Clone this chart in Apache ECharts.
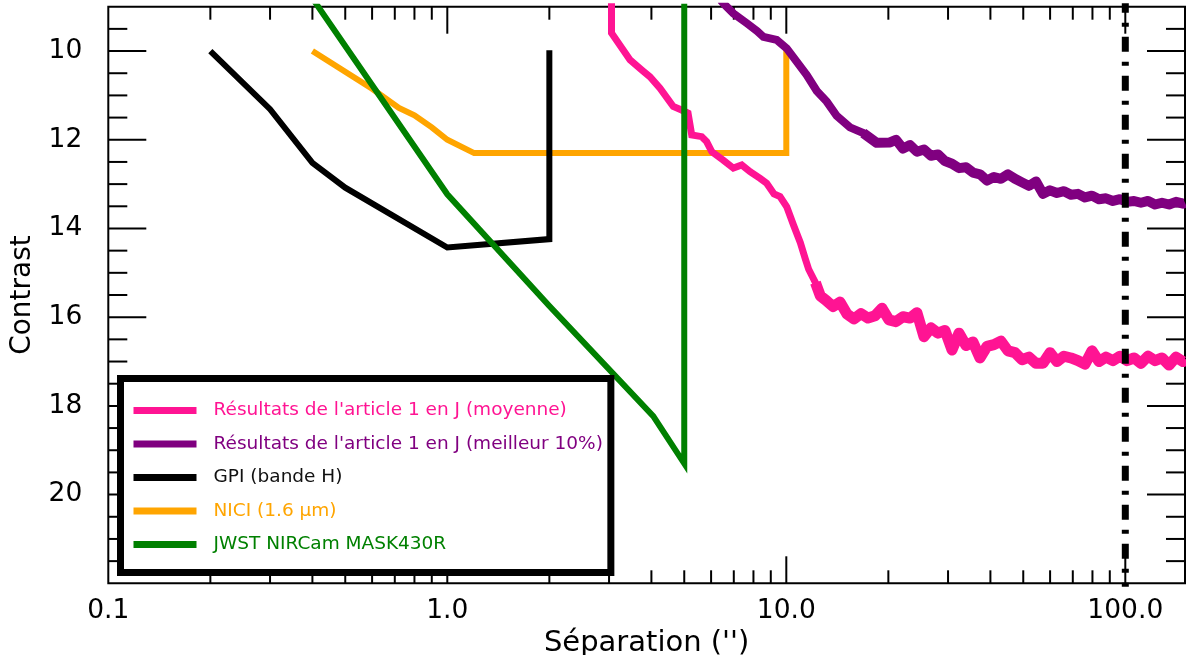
<!DOCTYPE html>
<html><head><meta charset="utf-8">
<script src="https://cdn.jsdelivr.net/npm/echarts@6/dist/echarts.min.js"></script>
<style>html,body{margin:0;padding:0;background:#fff}#c{width:1186px;height:655px}</style>
</head><body><div id="c"></div>
<script>
// ---- data ----
const namePink = "Résultats de l'article 1 en J (moyenne)";
const namePurple = "Résultats de l'article 1 en J (meilleur 10%)";
const nameGPI = "GPI (bande H)";
const nameNICI = "NICI (1.6 μm)";
const nameJWST = "JWST NIRCam MASK430R";

const gpi = [[0.2,10.0],[0.3,11.31],[0.4,12.52],[0.5,13.08],[1.0,14.43],[2.0,14.24],[2.0,9.98]];
const nici = [[0.4,10.0],[0.6,10.85],[0.72,11.28],[0.8,11.45],[0.9,11.72],[1.0,12.0],[1.2,12.3],[10.0,12.3],[10.0,9.98]];
const jwst = [[0.4,8.81],[1.0,13.23],[2.0,15.75],[4.05,18.23],[5.0,19.3],[5.0,8.8]];
// pink curve: steep part, then the noisy plateau
const pinkSteep = [
[3.05,8.8],[3.05,9.59],[3.46,10.2],[3.75,10.43],[3.96,10.58],[4.24,10.84],[4.64,11.25],[4.91,11.33],[5.13,11.40],[5.26,11.89],
[5.63,11.93],[5.82,12.04],[6.03,12.27],[6.52,12.46],[6.98,12.64],[7.39,12.57],[7.82,12.72],[8.37,12.87],[8.75,12.98],[9.2,13.22],
[9.58,13.28],[10.03,13.51],[10.52,13.94],[11.0,14.32],[11.38,14.69],[11.64,14.92],[12.19,15.22],[12.6,15.52],[13.10,15.62]
];
const pinkNoisy = [
[12.19,15.22],[12.6,15.52],[13.10,15.62],[13.73,15.76],[14.40,15.66],[15.10,15.93],[15.84,16.04],[16.61,15.92],[17.42,16.02],[18.27,15.97],
[19.16,15.80],[20.09,16.06],[21.07,16.10],[22.09,15.99],[23.17,16.02],[24.29,15.90],[25.48,16.44],[26.72,16.24],[28.02,16.36],[29.38,16.30],
[30.82,16.74],[32.32,16.36],[33.89,16.64],[35.53,16.56],[37.27,16.92],[39.08,16.66],[40.98,16.62],[42.97,16.54],[45.08,16.76],[47.27,16.80],
[49.57,16.96],[51.98,16.90],[54.52,17.04],[57.17,17.04],[59.96,16.80],[62.87,17.0],[65.93,16.88],[69.13,16.92],[72.5,16.98],[76.03,17.06],
[79.74,16.76],[83.62,17.0],[87.69,16.90],[91.96,16.98],[96.45,16.88],[101.15,16.98],[106.1,16.92],[111.2,17.04],[116.7,16.88],[122.4,16.98],
[128.3,16.92],[134.6,17.08],[141.1,16.90],[148.0,17.0],[150,16.94]
];
// purple curve: steep part, then the noisy tail
const purpleSteep = [
[6.4,8.85],[6.59,8.96],[6.98,9.15],[7.64,9.37],[8.2,9.55],[8.56,9.68],[9.37,9.75],[10.03,9.94],[10.73,10.24],[11.49,10.54],
[12.30,10.9],[13.16,11.14],[14.08,11.46],[15.41,11.72],[16.87,11.85],[18.48,12.07]
];
const purpleNoisy = [
[16.87,11.85],[18.48,12.07],[20.23,12.06],[21.07,12.0],[22.09,12.2],[23.17,12.12],[24.29,12.27],[25.48,12.22],[26.72,12.36],[28.02,12.33],
[29.38,12.48],[30.82,12.54],[32.32,12.64],[33.89,12.62],[35.53,12.74],[37.27,12.78],[39.08,12.92],[40.98,12.84],[42.97,12.88],[45.08,12.78],
[47.27,12.88],[49.57,12.96],[51.98,13.04],[54.52,12.94],[57.17,13.22],[59.96,13.14],[62.87,13.2],[65.93,13.16],[69.13,13.24],[72.5,13.22],
[76.03,13.3],[79.74,13.26],[83.62,13.34],[87.69,13.32],[91.96,13.38],[96.45,13.34],[101.15,13.4],[106.1,13.38],[111.2,13.42],[116.7,13.38],
[122.4,13.46],[128.3,13.42],[134.6,13.46],[141.1,13.4],[148.0,13.44],[150,13.42]
];
const limitLine = [[100,8.8],[100,22.2]];

const xMajorTicks = [1, 10, 100];
const xMinorTicks = [0.2,0.3,0.4,0.5,0.6,0.7,0.8,0.9,2,3,4,5,6,7,8,9,20,30,40,50,60,70,80,90];
const yMajorTicks = [10,12,14,16,18,20];
const yMinorTicks = [9.5,10.5,11,11.5,12.5,13,13.5,14.5,15,15.5,16.5,17,17.5,18.5,19,19.5,20.5,21,21.5];
const yLabelValues = [10,12,14,16,18,20];

const colPink = '#ff1493', colPurple = '#800080', colBlack = '#000000', colOrange = '#ffa500', colGreen = '#008000';

// ---- chart ----
const FONT = 'DejaVu Sans';
const tickData = [];
xMajorTicks.forEach(v => tickData.push([v, 10, 0, 1]));
xMinorTicks.forEach(v => tickData.push([v, 10, 0, 0]));
yMajorTicks.forEach(v => tickData.push([1, v, 1, 1]));
yMinorTicks.forEach(v => tickData.push([1, v, 1, 0]));

function lineSeries(name, data, color, width, join) {
  return {
    name: name, type: 'line', data: data, showSymbol: false, symbol: 'none',
    color: color, itemStyle: {color: color},
    lineStyle: {color: color, width: width, join: join || 'miter', cap: 'butt'},
    clip: true, silent: true, z: 2, animation: false
  };
}

const chart = echarts.init(document.getElementById('c'), null, {renderer: 'canvas'});
chart.setOption({
  animation: false,
  backgroundColor: '#ffffff',
  grid: {left: 108.3, top: 6.7, right: 1, bottom: 71.7, show: true, borderColor: '#000', borderWidth: 2,
         backgroundColor: 'transparent', containLabel: false, outerBoundsMode: 'none'},
  xAxis: {
    type: 'log', logBase: 10, min: 0.1, max: 150,
    name: "Séparation ('')", nameLocation: 'middle', nameGap: 36,
    nameTextStyle: {fontFamily: FONT, fontSize: 29, color: '#000'},
    axisLine: {show: false}, axisTick: {show: false}, splitLine: {show: false}, minorTick: {show: false},
    axisLabel: {
      fontFamily: FONT, fontSize: 26.5, color: '#000', margin: 14, showMaxLabel: false,
      formatter: function (v) {
        const l = Math.log10(v);
        return Math.abs(l - Math.round(l)) < 1e-6 ? v.toFixed(1) : '';
      }
    }
  },
  yAxis: {
    type: 'value', inverse: true, min: 9, max: 22, interval: 1,
    name: 'Contrast', nameLocation: 'middle', nameGap: 72,
    nameTextStyle: {fontFamily: FONT, fontSize: 28, color: '#000'},
    axisLine: {show: false}, axisTick: {show: false}, splitLine: {show: false},
    axisLabel: {
      fontFamily: FONT, fontSize: 26.5, color: '#000', margin: 26,
      formatter: function (v) { return yLabelValues.indexOf(v) >= 0 ? String(v) : ''; }
    }
  },
  legend: {
    orient: 'vertical', left: 120.5, top: 378.5,
    padding: [21, 8, 17, 13],
    backgroundColor: '#fff', borderColor: '#000', borderWidth: 7,
    itemWidth: 63, itemHeight: 7, itemGap: 11.5,
    selectedMode: false,
    textStyle: {fontFamily: FONT, fontSize: 18.5, lineHeight: 22, padding: [0, 0, 0, 12]},
    data: [
      {name: namePink, icon: 'rect', textStyle: {color: colPink}},
      {name: namePurple, icon: 'rect', textStyle: {color: colPurple}},
      {name: nameGPI, icon: 'rect', textStyle: {color: '#111'}},
      {name: nameNICI, icon: 'rect', textStyle: {color: colOrange}},
      {name: nameJWST, icon: 'rect', textStyle: {color: colGreen}}
    ]
  },
  series: [
    {
      type: 'custom', name: 'ticks', silent: true, z: 1,
      dimensions: ['x', 'y', 'kind', 'major'], encode: {x: 0, y: 1},
      data: tickData,
      renderItem: function (params, api) {
        const cs = params.coordSys;
        const kind = api.value(2), major = api.value(3);
        const st = {stroke: '#000', lineWidth: 2};
        if (kind === 0) {
          const px = api.coord([api.value(0), 10])[0];
          const L = major ? 27 : 13;
          return {type: 'group', children: [
            {type: 'line', shape: {x1: px, y1: cs.y, x2: px, y2: cs.y + L}, style: st},
            {type: 'line', shape: {x1: px, y1: cs.y + cs.height, x2: px, y2: cs.y + cs.height - L}, style: st}
          ]};
        }
        const py = api.coord([1, api.value(1)])[1];
        const L = major ? 38 : 19;
        return {type: 'group', children: [
          {type: 'line', shape: {x1: cs.x, y1: py, x2: cs.x + L, y2: py}, style: st},
          {type: 'line', shape: {x1: cs.x + cs.width, y1: py, x2: cs.x + cs.width - L, y2: py}, style: st}
        ]};
      }
    },
    lineSeries(nameNICI, nici, colOrange, 6),
    lineSeries(nameGPI, gpi, colBlack, 6),
    lineSeries(namePink, pinkSteep, colPink, 7),
    lineSeries(namePink, pinkNoisy, colPink, 11, 'round'),
    lineSeries(namePurple, purpleSteep, colPurple, 8),
    lineSeries(namePurple, purpleNoisy, colPurple, 10, 'round'),
    lineSeries(nameJWST, jwst, colGreen, 6),
    {
      type: 'line', name: 'limit', data: limitLine, showSymbol: false, symbol: 'none', silent: true, z: 3, clip: true,
      lineStyle: {color: '#000', width: 7, type: [15, 10, 4, 10], cap: 'butt'}
    }
  ]
});
</script></body></html>
